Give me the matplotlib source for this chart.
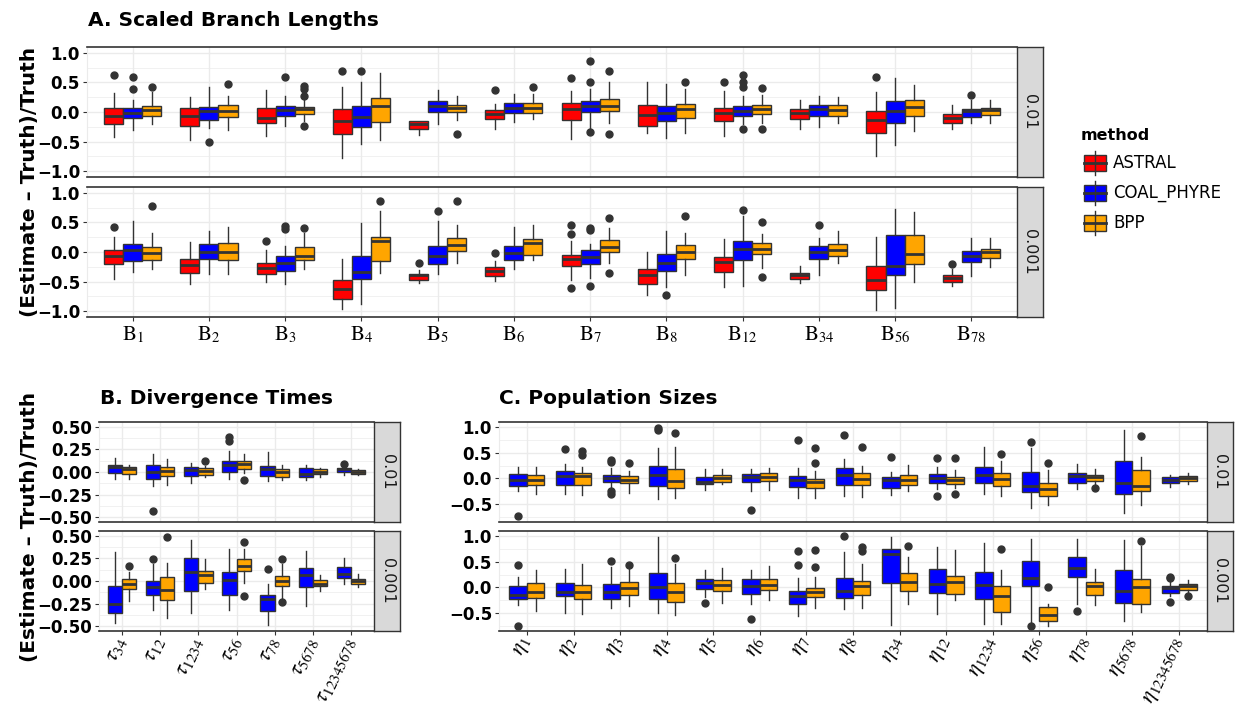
import numpy as np
import matplotlib
matplotlib.use("Agg")
import matplotlib.pyplot as plt
from matplotlib.patches import Rectangle

plt.rcParams.update({"font.family": "DejaVu Sans", "mathtext.fontset": "stix"})

W, H = 1239, 711
DARK = "#333333"
GRID = "#EBEBEB"
COLORS = {"ASTRAL": "#FF0000", "COAL_PHYRE": "#0000FF", "BPP": "#FFA500"}
METHODS = ["ASTRAL", "COAL_PHYRE", "BPP"]

A_CATS = ["1", "2", "3", "4", "5", "6", "7", "8", "12", "34", "56", "78"]
B_CATS = ["34", "12", "1234", "56", "78", "5678", "12345678"]
C_CATS = ["1", "2", "3", "4", "5", "6", "7", "8", "34", "12", "1234", "56", "78",
          "5678", "12345678"]

# rows: (whisker low, q1, median, q3, whisker high); "01" = 0.01, "001" = 0.001
A01_ASTRAL = [(-0.43, -0.20, -0.07, 0.07, 0.33), (-0.48, -0.24, -0.07, 0.07, 0.25),
              (-0.40, -0.19, -0.10, 0.07, 0.38), (-0.77, -0.37, -0.15, 0.05, 0.43),
              (-0.39, -0.28, -0.21, -0.15, -0.15), (-0.28, -0.125, -0.03, 0.03, 0.14),
              (-0.46, -0.14, 0.05, 0.15, 0.35), (-0.36, -0.245, -0.05, 0.125, 0.50),
              (-0.40, -0.15, -0.02, 0.07, 0.35), (-0.28, -0.12, -0.02, 0.05, 0.20),
              (-0.74, -0.36, -0.13, 0.02, 0.34), (-0.28, -0.19, -0.10, -0.03, 0.125)]
A01_ASTRAL_OUT = [[0.62], [], [], [0.70], [], [0.38], [0.58], [], [0.50], [], [0.60], []]
A01_COAL = [(-0.31, -0.10, -0.02, 0.07, 0.20), (-0.27, -0.14, 0.01, 0.085, 0.42),
            (-0.23, -0.07, 0.03, 0.11, 0.27), (-0.54, -0.25, -0.08, 0.11, 0.50),
            (-0.20, 0.0, 0.10, 0.18, 0.37), (-0.17, -0.02, 0.06, 0.15, 0.31),
            (-0.28, 0.0, 0.10, 0.18, 0.39), (-0.44, -0.15, -0.02, 0.10, 0.48),
            (-0.20, -0.07, 0.02, 0.10, 0.27), (-0.26, -0.07, 0.05, 0.125, 0.27),
            (-0.56, -0.19, 0.02, 0.18, 0.58), (-0.19, -0.08, 0.01, 0.05, 0.20)]
A01_COAL_OUT = [[0.60, 0.39], [-0.51], [0.60], [0.70], [], [], [0.86, 0.50, -0.34], [],
                [0.63, 0.50, 0.42, -0.29], [], [], [0.28]]
A01_BPP = [(-0.21, -0.07, 0.03, 0.10, 0.34), (-0.30, -0.085, 0.01, 0.125, 0.27),
           (-0.15, -0.04, 0.045, 0.085, 0.20), (-0.48, -0.17, 0.10, 0.23, 0.66),
           (-0.13, 0.0, 0.07, 0.125, 0.27), (-0.12, -0.02, 0.06, 0.15, 0.31),
           (-0.18, 0.02, 0.10, 0.22, 0.50), (-0.35, -0.10, 0.05, 0.14, 0.39),
           (-0.18, -0.04, 0.05, 0.12, 0.28), (-0.18, -0.07, 0.03, 0.125, 0.25),
           (-0.32, -0.07, 0.09, 0.20, 0.46), (-0.18, -0.05, 0.03, 0.07, 0.20)]
A01_BPP_OUT = [[0.42], [0.48], [0.44, 0.39, 0.27, -0.23], [], [-0.37], [0.42],
               [0.69, -0.37], [0.50], [0.41, -0.28], [], [], []]

A001_ASTRAL = [(-0.46, -0.20, -0.07, 0.03, 0.25), (-0.54, -0.35, -0.22, -0.11, 0.17),
               (-0.50, -0.38, -0.27, -0.18, 0.03), (-0.97, -0.79, -0.63, -0.47, -0.11),
               (-0.53, -0.47, -0.39, -0.37, -0.31), (-0.49, -0.41, -0.32, -0.25, -0.16),
               (-0.47, -0.24, -0.12, -0.055, 0.19), (-0.72, -0.54, -0.39, -0.28, 0.0),
               (-0.59, -0.34, -0.17, -0.09, 0.22), (-0.52, -0.45, -0.39, -0.35, -0.24),
               (-0.98, -0.64, -0.47, -0.23, 0.26), (-0.57, -0.50, -0.44, -0.39, -0.29)]
A001_ASTRAL_OUT = [[0.42], [], [0.19], [], [-0.19], [-0.02], [0.45, 0.30, -0.61], [], [],
                   [], [], [-0.21]]
A001_COAL = [(-0.34, -0.16, 0.03, 0.14, 0.53), (-0.37, -0.11, 0.0, 0.13, 0.36),
             (-0.54, -0.32, -0.19, -0.06, 0.11), (-0.88, -0.46, -0.33, -0.07, 0.49),
             (-0.37, -0.21, -0.07, 0.10, 0.53), (-0.29, -0.14, -0.02, 0.10, 0.42),
             (-0.44, -0.21, -0.09, 0.03, 0.13), (-0.60, -0.32, -0.19, -0.03, 0.36),
             (-0.57, -0.13, 0.05, 0.19, 0.61), (-0.39, -0.11, 0.0, 0.11, 0.23),
             (-0.94, -0.39, -0.24, 0.28, 0.72), (-0.40, -0.17, -0.06, 0.01, 0.23)]
A001_COAL_OUT = [[], [], [0.44, 0.39], [], [0.69], [], [0.41, 0.38, -0.57], [-0.72],
                 [0.71], [0.46], [], []]
A001_BPP = [(-0.29, -0.13, -0.02, 0.09, 0.32), (-0.37, -0.14, 0.0, 0.15, 0.42),
            (-0.29, -0.13, -0.06, 0.08, 0.32), (-0.35, -0.15, 0.18, 0.25, 0.69),
            (-0.19, 0.02, 0.12, 0.24, 0.46), (-0.14, -0.05, 0.15, 0.22, 0.46),
            (-0.19, 0.0, 0.09, 0.20, 0.40), (-0.39, -0.12, 0.0, 0.12, 0.33),
            (-0.27, -0.04, 0.055, 0.16, 0.30), (-0.19, -0.07, 0.03, 0.13, 0.36),
            (-0.50, -0.20, -0.04, 0.29, 0.67), (-0.25, -0.10, 0.0, 0.055, 0.23)]
A001_BPP_OUT = [[0.78], [], [0.41], [0.86], [0.86], [], [0.57, -0.35], [0.61],
                [0.50, -0.42], [], [], []]

B01_COAL = [(-0.075, -0.01, 0.05, 0.08, 0.15), (-0.15, -0.075, 0.0, 0.075, 0.20),
            (-0.12, -0.04, 0.025, 0.05, 0.10), (-0.075, 0.0, 0.08, 0.125, 0.23),
            (-0.10, -0.04, 0.035, 0.07, 0.22), (-0.09, -0.05, -0.02, 0.045, 0.075),
            (-0.03, 0.0, 0.03, 0.045, 0.05)]
B01_COAL_OUT = [[], [-0.43], [], [0.39, 0.34], [], [], [0.09]]
B01_BPP = [(-0.075, -0.02, 0.035, 0.055, 0.075), (-0.14, -0.04, 0.01, 0.055, 0.145),
           (-0.05, -0.03, 0.01, 0.045, 0.07), (-0.01, 0.035, 0.09, 0.125, 0.20),
           (-0.085, -0.05, 0.0, 0.035, 0.08), (-0.05, -0.02, 0.005, 0.03, 0.045),
           (-0.03, -0.02, 0.005, 0.025, 0.035)]
B01_BPP_OUT = [[], [], [0.12], [-0.09], [], [], []]

B001_COAL = [(-0.47, -0.35, -0.25, -0.05, 0.32), (-0.32, -0.16, -0.07, 0.0, 0.19),
             (-0.36, -0.115, 0.10, 0.255, 0.45), (-0.32, -0.16, 0.01, 0.095, 0.36),
             (-0.49, -0.33, -0.20, -0.15, -0.035), (-0.28, -0.07, 0.07, 0.145, 0.33),
             (-0.035, 0.035, 0.08, 0.16, 0.26)]
B001_COAL_OUT = [[], [0.24], [], [], [0.135], [], []]
B001_BPP = [(-0.22, -0.09, -0.035, 0.02, 0.10), (-0.41, -0.21, -0.10, 0.047, 0.20),
            (-0.09, -0.02, 0.065, 0.11, 0.24), (-0.02, 0.11, 0.17, 0.24, 0.35),
            (-0.20, -0.06, 0.0, 0.055, 0.19), (-0.115, -0.055, -0.03, 0.01, 0.065),
            (-0.07, -0.035, -0.005, 0.02, 0.075)]
B001_BPP_OUT = [[0.17], [0.49], [], [0.435, -0.17], [0.24, -0.23], [], []]

C01_COAL = [(-0.24, -0.14, -0.03, 0.085, 0.22), (-0.29, -0.12, 0.05, 0.15, 0.28),
            (-0.17, -0.06, 0.0, 0.065, 0.20), (-0.40, -0.14, 0.065, 0.24, 0.58),
            (-0.22, -0.11, -0.065, 0.02, 0.18), (-0.24, -0.06, 0.03, 0.085, 0.18),
            (-0.38, -0.17, -0.03, 0.04, 0.20), (-0.33, -0.13, 0.065, 0.20, 0.37),
            (-0.31, -0.19, -0.03, 0.03, 0.13), (-0.20, -0.08, 0.0, 0.085, 0.22),
            (-0.29, -0.08, 0.065, 0.23, 0.61), (-0.56, -0.26, -0.14, 0.13, 0.58),
            (-0.20, -0.08, 0.04, 0.10, 0.28), (-0.67, -0.29, -0.08, 0.33, 0.94),
            (-0.16, -0.08, -0.025, 0.02, 0.07)]
C01_COAL_OUT = [[-0.72], [0.56], [0.36, 0.31, -0.24, -0.30], [0.98, 0.93], [], [-0.60],
                [0.74], [0.83], [0.42], [0.39, -0.33], [], [0.70], [], [], []]
C01_BPP = [(-0.30, -0.13, -0.03, 0.065, 0.22), (-0.32, -0.12, 0.05, 0.10, 0.22),
           (-0.27, -0.08, -0.03, 0.05, 0.15), (-0.37, -0.19, -0.045, 0.19, 0.61),
           (-0.11, -0.075, 0.005, 0.065, 0.18), (-0.22, -0.045, 0.03, 0.10, 0.20),
           (-0.37, -0.185, -0.06, -0.013, 0.15), (-0.35, -0.13, -0.01, 0.10, 0.24),
           (-0.24, -0.13, -0.03, 0.065, 0.26), (-0.18, -0.10, -0.03, 0.03, 0.16),
           (-0.33, -0.14, -0.01, 0.115, 0.33), (-0.51, -0.33, -0.20, -0.08, 0.16),
           (-0.11, -0.045, 0.03, 0.065, 0.18), (-0.51, -0.24, -0.14, 0.17, 0.42),
           (-0.10, -0.045, 0.005, 0.04, 0.10)]
C01_BPP_OUT = [[], [0.53, 0.46], [0.30], [0.88], [], [], [0.58, 0.30], [0.60], [],
               [0.40, -0.30], [0.47], [0.30], [-0.19], [0.81], []]

C001_COAL = [(-0.34, -0.22, -0.14, 0.025, 0.20), (-0.50, -0.17, -0.08, 0.09, 0.36),
             (-0.40, -0.22, -0.08, 0.06, 0.40), (-0.49, -0.22, 0.005, 0.28, 0.97),
             (-0.19, -0.03, 0.085, 0.17, 0.34), (-0.32, -0.12, 0.02, 0.17, 0.33),
             (-0.55, -0.31, -0.16, -0.06, 0.19), (-0.42, -0.21, -0.07, 0.19, 0.69),
             (-0.72, 0.085, 0.64, 0.74, 0.97), (-0.51, -0.10, 0.07, 0.36, 0.77),
             (-0.71, -0.22, 0.04, 0.29, 0.85), (-0.67, 0.03, 0.19, 0.51, 0.93),
             (-0.32, 0.20, 0.38, 0.58, 0.93), (-0.64, -0.30, -0.07, 0.33, 0.92),
             (-0.17, -0.10, -0.005, 0.02, 0.14)]
C001_COAL_OUT = [[0.43, -0.74], [], [0.51], [], [-0.30], [-0.61], [0.70, 0.43], [1.00],
                 [], [], [], [-0.74], [-0.45], [], [0.21, 0.19, -0.27]]
C001_BPP = [(-0.46, -0.20, -0.09, 0.09, 0.33), (-0.51, -0.23, -0.09, 0.04, 0.45),
            (-0.35, -0.14, -0.01, 0.10, 0.36), (-0.53, -0.27, -0.09, 0.085, 0.45),
            (-0.30, -0.06, 0.05, 0.15, 0.38), (-0.24, -0.045, 0.05, 0.155, 0.42),
            (-0.40, -0.175, -0.08, -0.01, 0.20), (-0.40, -0.14, 0.02, 0.12, 0.45),
            (-0.32, -0.06, 0.10, 0.28, 0.58), (-0.25, -0.12, 0.10, 0.23, 0.73),
            (-0.71, -0.47, -0.16, 0.02, 0.34), (-0.74, -0.64, -0.53, -0.38, -0.32),
            (-0.34, -0.14, 0.02, 0.10, 0.36), (-0.48, -0.32, 0.005, 0.155, 0.80),
            (-0.09, -0.04, 0.02, 0.06, 0.15)]
C001_BPP_OUT = [[], [], [0.43], [0.57], [], [], [0.72, 0.40], [0.77, 0.71], [0.80], [],
                [0.75], [0.005], [], [0.90], [-0.17]]


def px_axes(fig, x0, y0, x1, y1):
    return fig.add_axes([x0 / W, 1 - y1 / H, (x1 - x0) / W, (y1 - y0) / H])


def draw_facet(ax, ncat, series, ylim, major, minor):
    n = len(series)
    width = 0.75 / n
    for k, (method, rows, outs) in enumerate(series):
        off = (k - (n - 1) / 2) * width
        stats = [dict(whislo=r[0], q1=r[1], med=r[2], q3=r[3], whishi=r[4],
                      fliers=np.array(o)) for r, o in zip(rows, outs)]
        ax.bxp(stats, positions=np.arange(1, ncat + 1) + off, widths=width,
               patch_artist=True, showcaps=False, manage_ticks=False,
               boxprops=dict(facecolor=COLORS[method], edgecolor=DARK, linewidth=1.0),
               medianprops=dict(color=DARK, linewidth=2.0),
               whiskerprops=dict(color=DARK, linewidth=1.0),
               flierprops=dict(marker="o", markerfacecolor=DARK, markeredgecolor=DARK,
                               markersize=5, linestyle="none"))
    ax.set_xlim(0.4, ncat + 0.6)
    ax.set_ylim(*ylim)
    ax.set_axisbelow(True)
    ax.set_xticks(np.arange(1, ncat + 1))
    ax.set_yticks(major)
    ax.set_yticks(minor, minor=True)
    ax.grid(True, which="major", color=GRID, lw=1.0)
    ax.grid(True, which="minor", axis="y", color=GRID, lw=0.5)
    ax.tick_params(axis="y", which="minor", length=0)
    ax.tick_params(axis="both", which="major", length=3, width=0.8, color=DARK,
                   labelsize=12, pad=2)
    ax.spines["top"].set_color(DARK)
    ax.spines["bottom"].set_color(DARK)
    ax.spines["top"].set_linewidth(1.2)
    ax.spines["bottom"].set_linewidth(1.2)
    ax.spines["left"].set_color(GRID)
    ax.spines["right"].set_visible(False)


def strip(fig, x0, y0, x1, y1, label):
    s = px_axes(fig, x0, y0, x1, y1)
    s.set_xticks([]); s.set_yticks([])
    s.set_facecolor("#D9D9D9")
    for sp in s.spines.values():
        sp.set_color(DARK); sp.set_linewidth(1.0)
    s.text(0.5, 0.5, label, rotation=-90, ha="center", va="center", fontsize=11.5,
           color="#1A1A1A", transform=s.transAxes)


def fmt(vals, nd):
    return [f"{v:.{nd}f}".replace("-", "\u2212") for v in vals]


fig = plt.figure(figsize=(W / 100, H / 100), dpi=100)

# ---------------- A. scaled branch lengths
A_MAJ = [-1.0, -0.5, 0.0, 0.5, 1.0]
A_MIN = [-0.75, -0.25, 0.25, 0.75]
A_FACETS = [("0.01", 47, 177, [("ASTRAL", A01_ASTRAL, A01_ASTRAL_OUT),
                               ("COAL_PHYRE", A01_COAL, A01_COAL_OUT),
                               ("BPP", A01_BPP, A01_BPP_OUT)]),
            ("0.001", 187, 317, [("ASTRAL", A001_ASTRAL, A001_ASTRAL_OUT),
                                 ("COAL_PHYRE", A001_COAL, A001_COAL_OUT),
                                 ("BPP", A001_BPP, A001_BPP_OUT)])]
for i, (lab, y0, y1, series) in enumerate(A_FACETS):
    ax = px_axes(fig, 87, y0, 1017, y1)
    draw_facet(ax, len(A_CATS), series, (-1.1, 1.1), A_MAJ, A_MIN)
    ax.set_yticklabels(fmt(A_MAJ, 1), fontweight="bold")
    if i == 0:
        ax.tick_params(axis="x", length=0, labelbottom=False)
    else:
        ax.set_xticklabels([r"$\mathrm{B}_{%s}$" % c for c in A_CATS], fontsize=15)
    strip(fig, 1017, y0, 1043, y1, lab)

# ---------------- B. divergence times / C. population sizes
B_MAJ = [-0.5, -0.25, 0.0, 0.25, 0.5]
B_MIN = [-0.375, -0.125, 0.125, 0.375]
C_MAJ = [-0.5, 0.0, 0.5, 1.0]
C_MIN = [-0.75, -0.25, 0.25, 0.75]
LOWER = [(99, 374, B_CATS, r"\tau", (-0.555, 0.555), B_MAJ, B_MIN, 2,
          [[("COAL_PHYRE", B01_COAL, B01_COAL_OUT), ("BPP", B01_BPP, B01_BPP_OUT)],
           [("COAL_PHYRE", B001_COAL, B001_COAL_OUT), ("BPP", B001_BPP, B001_BPP_OUT)]]),
         (499, 1207, C_CATS, r"\eta", (-0.8375, 1.0875), C_MAJ, C_MIN, 1,
          [[("COAL_PHYRE", C01_COAL, C01_COAL_OUT), ("BPP", C01_BPP, C01_BPP_OUT)],
           [("COAL_PHYRE", C001_COAL, C001_COAL_OUT), ("BPP", C001_BPP, C001_BPP_OUT)]])]
for x0, x1, cats, sym, ylim, maj, mnr, nd, facets in LOWER:
    for i, (lab, y0, y1) in enumerate([("0.01", 422, 522), ("0.001", 531, 631)]):
        ax = px_axes(fig, x0, y0, x1, y1)
        draw_facet(ax, len(cats), facets[i], ylim, maj, mnr)
        ax.set_yticklabels(fmt(maj, nd), fontweight="bold")
        if i == 0:
            ax.tick_params(axis="x", length=0, labelbottom=False)
        else:
            ax.set_xticklabels([r"$%s_{%s}$" % (sym, c) for c in cats], fontsize=15.5,
                               rotation=65, ha="right", va="center",
                               rotation_mode="anchor")
        strip(fig, x1, y0, x1 + 26, y1, lab)

# ---------------- titles and shared labels
fig.text(88 / W, 1 - 21 / H, "A. Scaled Branch Lengths", fontsize=14.5,
         fontweight="bold", va="center")
fig.text(100 / W, 1 - 398 / H, "B. Divergence Times", fontsize=14.5,
         fontweight="bold", va="center")
fig.text(499 / W, 1 - 398 / H, "C. Population Sizes", fontsize=14.5,
         fontweight="bold", va="center")
for yc in (182, 527):
    fig.text(30 / W, 1 - yc / H, "(Estimate \u2013 Truth)/Truth", rotation=90,
             fontsize=14.5, fontweight="bold", ha="center", va="center")

# ---------------- legend
lg = fig.add_axes([0, 0, 1, 1], facecolor="none")
lg.set_xlim(0, W); lg.set_ylim(H, 0); lg.axis("off")
lg.text(1081, 135, "method", fontsize=11.5, fontweight="bold", va="center")
for j, m in enumerate(METHODS):
    yc = 163 + 30 * j
    lg.plot([1095, 1095], [yc - 12, yc + 12], color=DARK, lw=1.0)
    lg.add_patch(Rectangle((1084, yc - 8), 22, 16, facecolor=COLORS[m],
                           edgecolor=DARK, lw=1.0))
    lg.plot([1084, 1106], [yc, yc], color=DARK, lw=2.0)
    lg.text(1113, yc, m, fontsize=12, va="center")

fig.savefig("out.png", dpi=100)
